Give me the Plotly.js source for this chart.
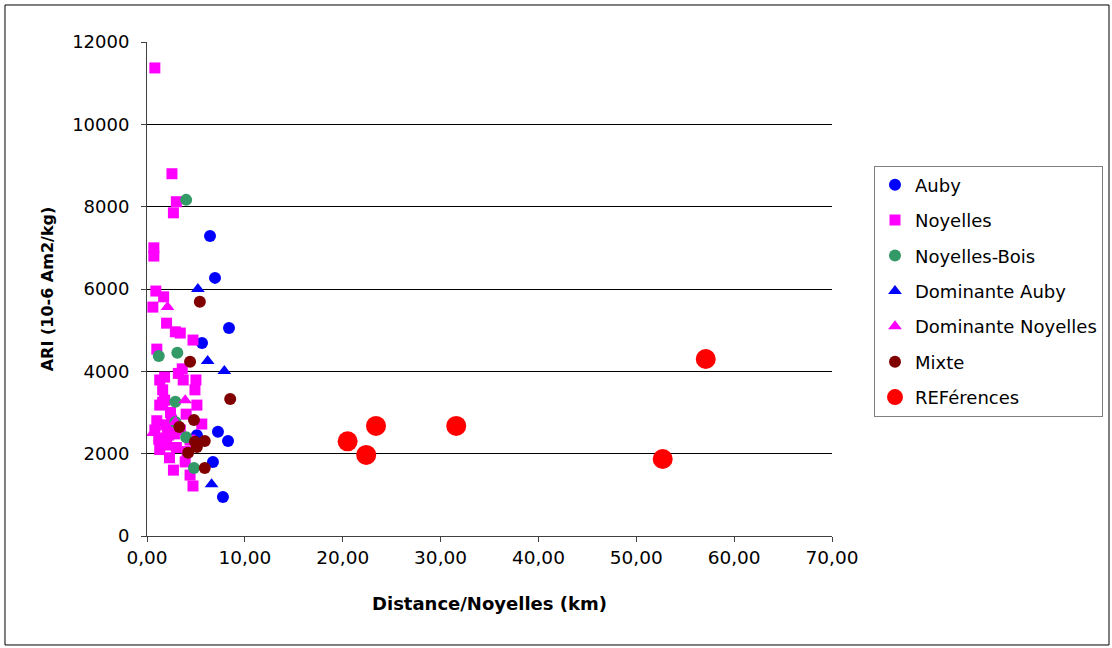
<!DOCTYPE html>
<html>
<head>
<meta charset="utf-8">
<script src="https://cdn.plot.ly/plotly-3.0.1.min.js"></script>
<style>
  html, body { margin: 0; padding: 0; background: #fff; }
  #chart { width: 1112px; height: 648px; }
</style>
</head>
<body>
<div id="chart"></div>
<script>
// ARI vs distance to Noyelles, by sample group
const seriesNames = ["Auby", "Noyelles", "Noyelles-Bois", "Dominante Auby", "Dominante Noyelles", "Mixte", "REFérences"];

const aubyX = [6.44, 6.95, 8.38, 5.62, 7.25, 8.28, 6.74, 7.76, 5.10];
const aubyY = [7290, 6270, 5050, 4690, 2530, 2310, 1800, 950, 2450];

const noyellesX = [0.80, 2.55, 3.00, 2.70, 0.70, 0.70, 0.90, 1.70, 0.60, 2.00, 2.90, 3.40, 4.70, 1.00,
                   1.80, 3.60, 5.00, 3.70, 1.30, 3.20, 1.60, 4.90, 1.60, 5.10, 1.30, 2.40, 0.80, 1.50,
                   2.00, 2.30, 2.70, 3.90, 4.40, 4.70, 5.60, 2.50, 3.40, 4.00, 4.40, 1.80, 2.10, 3.00,
                   1.20, 4.10, 2.80, 1.00, 1.90, 2.20, 1.30];
const noyellesY = [11370, 8800, 8120, 7850, 7000, 6800, 5950, 5810, 5560, 5170, 4960, 4930, 4760, 4540,
                   3860, 4060, 3790, 3790, 3790, 3950, 3550, 3550, 3250, 3180, 3180, 3000, 2575, 2380,
                   2210, 1900, 1600, 1800, 1480, 1215, 2720, 2820, 2575, 2960, 2330, 3300, 2620, 2150,
                   2350, 2050, 2480, 2800, 2700, 2450, 2100];

const noyBoisX = [4.00, 1.20, 3.10, 2.90, 2.90, 4.00, 4.80];
const noyBoisY = [8165, 4370, 4450, 3260, 2770, 2400, 1650];

const domAubyX = [5.20, 6.20, 7.90, 6.60];
const domAubyY = [6000, 4250, 4010, 1260];

const domNoyX = [2.10, 0.60, 3.90, 2.90];
const domNoyY = [5560, 2500, 3300, 2770];

const mixteX = [5.40, 4.40, 8.50, 4.80, 3.30, 4.90, 5.90, 4.20, 5.90, 5.10];
const mixteY = [5690, 4230, 3330, 2820, 2650, 2290, 2310, 2020, 1650, 2160];

const refX = [20.5, 22.4, 23.4, 31.6, 52.7, 57.1];
const refY = [2300, 1970, 2675, 2675, 1870, 4300];

const xTicks = [0, 10, 20, 30, 40, 50, 60, 70];
const yTicks = [0, 2000, 4000, 6000, 8000, 10000, 12000];

const FONT = "DejaVu Sans, Arial, sans-serif";

function series(i, x, y, symbol, color, size) {
  return {
    type: "scatter", mode: "markers", name: seriesNames[i], legendgroup: "g" + i,
    x: x, y: y, cliponaxis: false,
    marker: { symbol: symbol, color: color, size: size, line: { width: 0 } }
  };
}

const traces = [
  series(0, aubyX, aubyY, "circle", "#0000FF", 12),
  series(1, noyellesX, noyellesY, "square", "#FF00FF", 11),
  series(2, noyBoisX, noyBoisY, "circle", "#339966", 12),
  series(3, domAubyX, domAubyY, "triangle-up", "#0000FF", 12),
  series(4, domNoyX, domNoyY, "triangle-up", "#FF00FF", 12),
  series(5, mixteX, mixteY, "circle", "#800000", 12),
  series(6, refX, refY, "circle", "#FF0000", 20)
];

const layout = {
  width: 1112, height: 648,
  margin: { l: 147, r: 280, t: 42, b: 112, pad: 0, autoexpand: false },
  paper_bgcolor: "#ffffff", plot_bgcolor: "#ffffff",
  font: { family: FONT, size: 18, color: "#000" },
  separators: ", ",
  showlegend: true,
  xaxis: {
    range: [0, 70], tickvals: xTicks, tickformat: ".2f",
    showgrid: false, zeroline: false,
    showline: true, linecolor: "#404040", linewidth: 1,
    ticks: "outside", ticklen: 5, tickcolor: "#404040",
    tickfont: { family: FONT, size: 18.5 },
    title: { text: "<b>Distance/Noyelles (km)</b>", font: { family: FONT, size: 18 }, standoff: 30 }
  },
  yaxis: {
    range: [0, 12000], tickvals: yTicks, tickformat: "d",
    showgrid: true, gridcolor: "#000", gridwidth: 1, zeroline: false,
    showline: true, linecolor: "#404040", linewidth: 1,
    ticks: "outside", ticklen: 5, tickcolor: "#404040",
    ticklabelstandoff: 8,
    tickfont: { family: FONT, size: 18 },
    title: { text: "<b>ARI (10-6 Am2/kg)</b>", font: { family: FONT, size: 16 }, standoff: 14 }
  },
  legend: {
    x: 1.0613, y: 0.75, xanchor: "left", yanchor: "top",
    bordercolor: "#808080", borderwidth: 1, bgcolor: "#fff",
    font: { family: FONT, size: 18 },
    traceorder: "grouped", tracegroupgap: 9,
    itemsizing: "trace", entrywidth: 181
  },
  shapes: [{
    type: "rect", xref: "paper", yref: "paper",
    x0: -0.2073, x1: 1.4044, y0: -0.2206, y1: 1.0749,
    line: { color: "#000", width: 1 }
  }]
};

Plotly.newPlot("chart", traces, layout, { displayModeBar: false, staticPlot: true });
</script>
</body>
</html>
